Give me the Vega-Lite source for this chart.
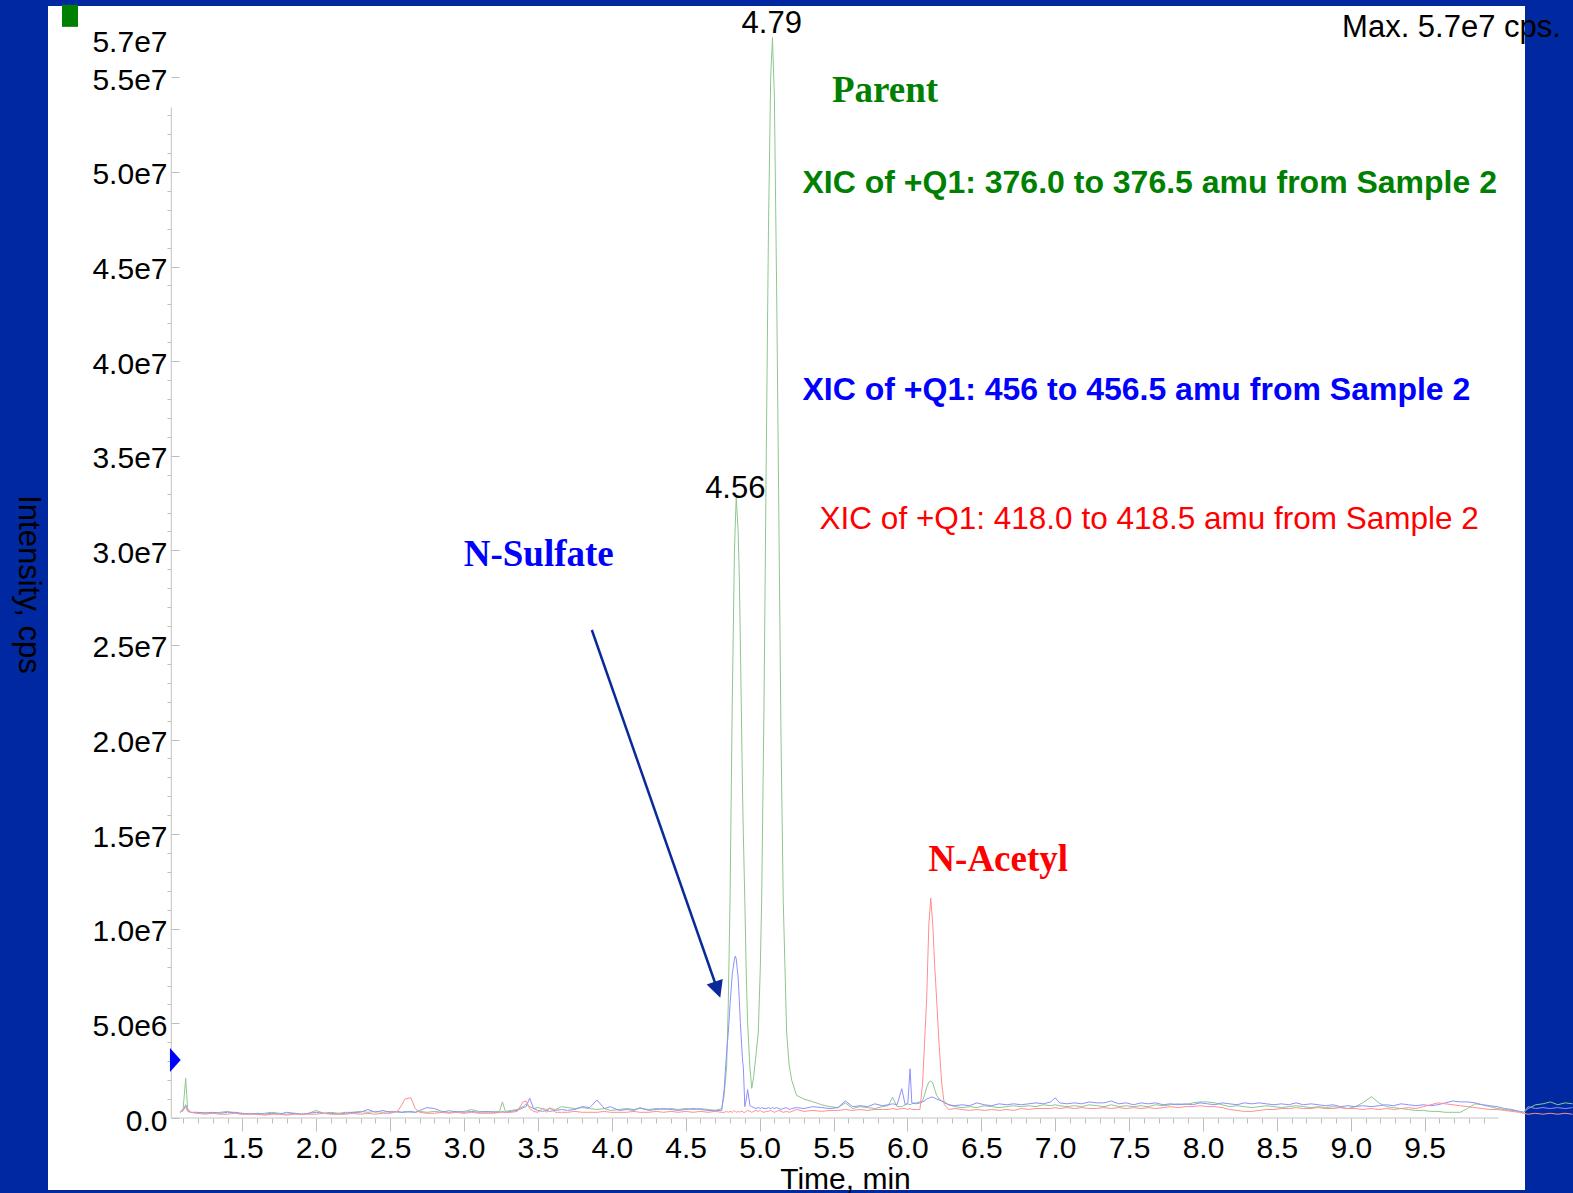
{
  "$schema": "https://vega.github.io/schema/vega-lite/v6.json",
  "width": 1477,
  "height": 1184,
  "autosize": {"type": "none"},
  "padding": {"left": 48, "top": 6, "right": 48, "bottom": 3},
  "background": "#0028A0",
  "config": {
    "view": {"fill": "white", "stroke": null},
    "font": "Liberation Sans"
  },
  "datasets": {
    "xic": [
      {"t":1.08,"g":0.3,"b":0.3,"r":0.3},{"t":1.10,"g":0.5,"b":0.4,"r":0.4},{"t":1.117,"g":2.1,"b":0.7,"r":0.6},{"t":1.13,"g":0.5,"b":0.4,"r":0.35},{"t":1.15,"g":0.3,"b":0.3,"r":0.3},
      {"t":1.20,"g":0.25,"b":0.3,"r":0.25},{"t":1.25,"g":0.3,"b":0.25,"r":0.2},{"t":1.30,"g":0.25,"b":0.3,"r":0.25},{"t":1.35,"g":0.3,"b":0.25,"r":0.2},{"t":1.40,"g":0.35,"b":0.3,"r":0.2},
      {"t":1.45,"g":0.25,"b":0.3,"r":0.25},{"t":1.50,"g":0.2,"b":0.25,"r":0.2},{"t":1.55,"g":0.25,"b":0.2,"r":0.2},{"t":1.60,"g":0.2,"b":0.25,"r":0.2},{"t":1.65,"g":0.25,"b":0.2,"r":0.15},
      {"t":1.70,"g":0.3,"b":0.25,"r":0.2},{"t":1.75,"g":0.25,"b":0.2,"r":0.2},{"t":1.80,"g":0.2,"b":0.3,"r":0.15},{"t":1.85,"g":0.25,"b":0.25,"r":0.2},{"t":1.90,"g":0.2,"b":0.2,"r":0.2},
      {"t":1.95,"g":0.25,"b":0.25,"r":0.2},{"t":2.00,"g":0.4,"b":0.3,"r":0.2},{"t":2.05,"g":0.25,"b":0.25,"r":0.25},{"t":2.10,"g":0.3,"b":0.25,"r":0.2},{"t":2.15,"g":0.25,"b":0.2,"r":0.2},
      {"t":2.20,"g":0.3,"b":0.25,"r":0.2},{"t":2.25,"g":0.3,"b":0.3,"r":0.25},{"t":2.30,"g":0.35,"b":0.3,"r":0.2},{"t":2.35,"g":0.3,"b":0.45,"r":0.25},{"t":2.40,"g":0.35,"b":0.3,"r":0.2},
      {"t":2.45,"g":0.3,"b":0.4,"r":0.25},{"t":2.50,"g":0.35,"b":0.3,"r":0.25},{"t":2.55,"g":0.3,"b":0.35,"r":0.35},{"t":2.58,"g":0.3,"b":0.3,"r":0.7},{"t":2.60,"g":0.35,"b":0.3,"r":1.0},
      {"t":2.64,"g":0.3,"b":0.35,"r":1.07},{"t":2.67,"g":0.3,"b":0.3,"r":0.5},{"t":2.70,"g":0.35,"b":0.4,"r":0.3},{"t":2.75,"g":0.3,"b":0.55,"r":0.25},{"t":2.80,"g":0.35,"b":0.5,"r":0.25},
      {"t":2.85,"g":0.3,"b":0.35,"r":0.3},{"t":2.90,"g":0.4,"b":0.3,"r":0.25},{"t":2.95,"g":0.3,"b":0.35,"r":0.3},{"t":3.00,"g":0.35,"b":0.3,"r":0.25},{"t":3.05,"g":0.45,"b":0.35,"r":0.3},
      {"t":3.10,"g":0.35,"b":0.3,"r":0.25},{"t":3.15,"g":0.3,"b":0.35,"r":0.25},{"t":3.20,"g":0.35,"b":0.3,"r":0.25},{"t":3.24,"g":0.35,"b":0.3,"r":0.3},{"t":3.26,"g":0.85,"b":0.35,"r":0.3},
      {"t":3.28,"g":0.35,"b":0.3,"r":0.3},{"t":3.32,"g":0.4,"b":0.35,"r":0.3},{"t":3.36,"g":0.45,"b":0.4,"r":0.35},{"t":3.40,"g":0.6,"b":0.55,"r":0.85},{"t":3.42,"g":0.75,"b":0.6,"r":0.9},
      {"t":3.445,"g":0.6,"b":1.05,"r":0.5},{"t":3.47,"g":0.5,"b":0.5,"r":0.35},{"t":3.50,"g":0.55,"b":0.4,"r":0.3},{"t":3.53,"g":0.5,"b":0.35,"r":0.5},{"t":3.56,"g":0.45,"b":0.4,"r":0.3},
      {"t":3.58,"g":0.5,"b":0.35,"r":0.55},{"t":3.62,"g":0.45,"b":0.4,"r":0.3},{"t":3.66,"g":0.6,"b":0.45,"r":0.3},{"t":3.70,"g":0.55,"b":0.4,"r":0.3},{"t":3.75,"g":0.5,"b":0.45,"r":0.35},
      {"t":3.80,"g":0.55,"b":0.6,"r":0.3},{"t":3.85,"g":0.5,"b":0.55,"r":0.3},{"t":3.90,"g":0.45,"b":0.95,"r":0.3},{"t":3.95,"g":0.5,"b":0.5,"r":0.35},{"t":3.99,"g":0.4,"b":0.6,"r":0.3},
      {"t":4.05,"g":0.45,"b":0.4,"r":0.3},{"t":4.10,"g":0.5,"b":0.45,"r":0.3},{"t":4.15,"g":0.45,"b":0.4,"r":0.35},{"t":4.19,"g":0.5,"b":0.55,"r":0.3},{"t":4.25,"g":0.45,"b":0.4,"r":0.3},
      {"t":4.30,"g":0.5,"b":0.45,"r":0.35},{"t":4.35,"g":0.45,"b":0.5,"r":0.3},{"t":4.40,"g":0.5,"b":0.45,"r":0.35},{"t":4.45,"g":0.45,"b":0.4,"r":0.3},{"t":4.50,"g":0.5,"b":0.45,"r":0.35},
      {"t":4.55,"g":0.45,"b":0.5,"r":0.3},{"t":4.60,"g":0.5,"b":0.45,"r":0.35},{"t":4.65,"g":0.45,"b":0.4,"r":0.3},{"t":4.70,"g":0.4,"b":0.4,"r":0.35},{"t":4.744,"g":0.5,"b":0.4,"r":0.3},
      {"t":4.76,"g":1.2,"b":1.5,"r":0.3},{"t":4.777,"g":2.7,"b":3.5,"r":0.35},{"t":4.788,"g":6,"b":4.5,"r":0.3},{"t":4.80,"g":11.5,"b":6.0,"r":0.35},{"t":4.815,"g":22,"b":7.6,"r":0.3},
      {"t":4.83,"g":30,"b":8.4,"r":0.4},{"t":4.836,"g":31.5,"b":8.56,"r":0.35},{"t":4.842,"g":32.8,"b":8.4,"r":0.3},{"t":4.855,"g":31,"b":7.4,"r":0.35},{"t":4.863,"g":28.5,"b":6.2,"r":0.3},
      {"t":4.87,"g":25,"b":5.0,"r":0.35},{"t":4.885,"g":17,"b":3.0,"r":0.35},{"t":4.89,"g":15,"b":2.7,"r":0.3},{"t":4.90,"g":11.5,"b":0.6,"r":0.3},{"t":4.91,"g":7.5,"b":1.0,"r":0.35},
      {"t":4.919,"g":5.0,"b":1.5,"r":0.4},{"t":4.935,"g":2.6,"b":0.65,"r":0.35},{"t":4.947,"g":1.57,"b":0.6,"r":0.3},{"t":4.96,"g":2.2,"b":0.55,"r":0.35},{"t":4.975,"g":3.3,"b":0.5,"r":0.4},
      {"t":4.991,"g":4.5,"b":0.55,"r":0.35},{"t":5.005,"g":8,"b":0.5,"r":0.4},{"t":5.014,"g":11.5,"b":0.55,"r":0.35},{"t":5.03,"g":22,"b":0.5,"r":0.3},{"t":5.045,"g":35,"b":0.5,"r":0.35},
      {"t":5.06,"g":47,"b":0.55,"r":0.35},{"t":5.075,"g":55,"b":0.5,"r":0.4},{"t":5.087,"g":57.1,"b":0.55,"r":0.35},{"t":5.10,"g":54,"b":0.5,"r":0.3},{"t":5.115,"g":44,"b":0.55,"r":0.35},
      {"t":5.13,"g":32,"b":0.5,"r":0.4},{"t":5.145,"g":20,"b":0.45,"r":0.35},{"t":5.16,"g":11.5,"b":0.5,"r":0.3},{"t":5.183,"g":4.5,"b":0.55,"r":0.35},{"t":5.20,"g":2.8,"b":0.45,"r":0.3},
      {"t":5.217,"g":2.0,"b":0.5,"r":0.35},{"t":5.25,"g":1.2,"b":0.55,"r":0.45},{"t":5.30,"g":1.0,"b":0.5,"r":0.35},{"t":5.36,"g":0.86,"b":0.6,"r":0.4},{"t":5.42,"g":0.7,"b":0.55,"r":0.35},
      {"t":5.476,"g":0.6,"b":0.5,"r":0.4},{"t":5.53,"g":0.55,"b":0.55,"r":0.4},{"t":5.58,"g":0.8,"b":0.9,"r":0.45},{"t":5.63,"g":0.5,"b":0.6,"r":0.4},{"t":5.68,"g":0.6,"b":0.65,"r":0.45},
      {"t":5.73,"g":0.55,"b":0.6,"r":0.4},{"t":5.78,"g":0.5,"b":0.75,"r":0.45},{"t":5.83,"g":0.6,"b":0.65,"r":0.45},{"t":5.87,"g":0.65,"b":0.7,"r":0.45},{"t":5.90,"g":1.1,"b":0.75,"r":0.5},
      {"t":5.93,"g":0.6,"b":0.7,"r":0.45},{"t":5.962,"g":0.6,"b":1.55,"r":0.5},{"t":5.985,"g":0.7,"b":0.7,"r":0.5},{"t":6.003,"g":0.75,"b":0.8,"r":0.45},{"t":6.018,"g":0.7,"b":2.6,"r":0.5},
      {"t":6.03,"g":0.75,"b":0.8,"r":0.45},{"t":6.06,"g":0.8,"b":0.75,"r":0.45},{"t":6.085,"g":0.85,"b":0.8,"r":0.45},{"t":6.103,"g":0.9,"b":0.85,"r":1.85},{"t":6.115,"g":1.2,"b":0.9,"r":3.8},
      {"t":6.13,"g":1.6,"b":1.0,"r":6.24},{"t":6.145,"g":1.9,"b":1.05,"r":10.2},{"t":6.158,"g":1.96,"b":1.1,"r":11.63},{"t":6.172,"g":1.85,"b":1.1,"r":10.2},{"t":6.185,"g":1.5,"b":1.05,"r":8.0},
      {"t":6.198,"g":1.2,"b":1.0,"r":6.24},{"t":6.215,"g":1.0,"b":0.95,"r":3.8},{"t":6.232,"g":0.9,"b":0.9,"r":1.85},{"t":6.25,"g":0.85,"b":0.8,"r":0.7},{"t":6.28,"g":0.7,"b":0.7,"r":0.45},
      {"t":6.32,"g":0.6,"b":0.65,"r":0.5},{"t":6.37,"g":0.55,"b":0.7,"r":0.45},{"t":6.42,"g":0.6,"b":0.65,"r":0.4},{"t":6.47,"g":0.55,"b":0.8,"r":0.45},{"t":6.52,"g":0.65,"b":0.7,"r":0.4},
      {"t":6.57,"g":0.6,"b":0.65,"r":0.45},{"t":6.62,"g":0.55,"b":0.75,"r":0.4},{"t":6.67,"g":0.6,"b":0.7,"r":0.45},{"t":6.72,"g":0.65,"b":0.75,"r":0.4},{"t":6.77,"g":0.6,"b":0.7,"r":0.5},
      {"t":6.82,"g":0.65,"b":0.75,"r":0.45},{"t":6.87,"g":0.6,"b":0.8,"r":0.5},{"t":6.92,"g":0.7,"b":0.75,"r":0.5},{"t":6.97,"g":0.65,"b":0.85,"r":0.5},{"t":7.00,"g":0.7,"b":1.07,"r":0.55},
      {"t":7.03,"g":0.65,"b":0.8,"r":0.5},{"t":7.08,"g":0.6,"b":0.75,"r":0.55},{"t":7.13,"g":0.65,"b":0.8,"r":0.5},{"t":7.18,"g":0.6,"b":0.75,"r":0.55},{"t":7.23,"g":0.7,"b":0.85,"r":0.5},
      {"t":7.28,"g":0.65,"b":0.8,"r":0.5},{"t":7.33,"g":0.6,"b":0.8,"r":0.55},{"t":7.38,"g":0.7,"b":0.9,"r":0.5},{"t":7.43,"g":0.6,"b":0.75,"r":0.55},{"t":7.48,"g":0.65,"b":0.8,"r":0.5},
      {"t":7.53,"g":0.6,"b":0.7,"r":0.55},{"t":7.58,"g":0.65,"b":0.8,"r":0.5},{"t":7.63,"g":0.6,"b":0.75,"r":0.55},{"t":7.68,"g":0.7,"b":0.8,"r":0.5},{"t":7.73,"g":0.65,"b":0.7,"r":0.55},
      {"t":7.78,"g":0.7,"b":0.75,"r":0.6},{"t":7.83,"g":0.75,"b":0.7,"r":0.55},{"t":7.88,"g":0.7,"b":0.75,"r":0.6},{"t":7.93,"g":0.8,"b":0.7,"r":0.6},{"t":7.98,"g":0.85,"b":0.8,"r":0.65},
      {"t":8.03,"g":0.85,"b":0.75,"r":0.6},{"t":8.08,"g":0.8,"b":0.7,"r":0.6},{"t":8.13,"g":0.7,"b":0.8,"r":0.55},{"t":8.18,"g":0.6,"b":0.75,"r":0.45},{"t":8.23,"g":0.65,"b":0.7,"r":0.4},
      {"t":8.28,"g":0.6,"b":0.8,"r":0.35},{"t":8.33,"g":0.55,"b":0.75,"r":0.35},{"t":8.38,"g":0.6,"b":0.8,"r":0.4},{"t":8.43,"g":0.65,"b":0.75,"r":0.45},{"t":8.48,"g":0.6,"b":0.7,"r":0.45},
      {"t":8.53,"g":0.55,"b":0.75,"r":0.5},{"t":8.58,"g":0.6,"b":0.7,"r":0.5},{"t":8.63,"g":0.65,"b":0.8,"r":0.55},{"t":8.68,"g":0.6,"b":0.7,"r":0.5},{"t":8.73,"g":0.55,"b":0.75,"r":0.5},
      {"t":8.78,"g":0.6,"b":0.7,"r":0.55},{"t":8.83,"g":0.55,"b":0.65,"r":0.5},{"t":8.88,"g":0.6,"b":0.7,"r":0.5},{"t":8.93,"g":0.55,"b":0.6,"r":0.55},{"t":8.98,"g":0.5,"b":0.65,"r":0.5},
      {"t":9.03,"g":0.6,"b":0.6,"r":0.5},{"t":9.08,"g":0.8,"b":0.65,"r":0.45},{"t":9.14,"g":1.13,"b":0.6,"r":0.5},{"t":9.19,"g":0.8,"b":0.65,"r":0.45},{"t":9.24,"g":0.6,"b":0.7,"r":0.5},
      {"t":9.29,"g":0.55,"b":0.65,"r":0.45},{"t":9.34,"g":0.5,"b":0.75,"r":0.5},{"t":9.39,"g":0.45,"b":0.7,"r":0.55},{"t":9.44,"g":0.4,"b":0.65,"r":0.5},{"t":9.49,"g":0.4,"b":0.7,"r":0.6},
      {"t":9.54,"g":0.35,"b":0.65,"r":0.7},{"t":9.59,"g":0.35,"b":0.7,"r":0.8},{"t":9.64,"g":0.3,"b":0.8,"r":0.75},{"t":9.69,"g":0.3,"b":0.9,"r":0.7},{"t":9.74,"g":0.3,"b":0.85,"r":0.65},
      {"t":9.79,"g":0.5,"b":0.85,"r":0.6},{"t":9.84,"g":0.75,"b":0.8,"r":0.55},{"t":9.89,"g":0.7,"b":0.7,"r":0.5},{"t":9.94,"g":0.6,"b":0.65,"r":0.45},{"t":9.99,"g":0.5,"b":0.6,"r":0.45},
      {"t":10.04,"g":0.45,"b":0.5,"r":0.4},{"t":10.09,"g":0.4,"b":0.45,"r":0.35},{"t":10.14,"g":0.35,"b":0.35,"r":0.3},{"t":10.17,"g":0.3,"b":0.3,"r":0.25},{"t":10.20,"g":0.5,"b":0.6,"r":0.2},
      {"t":10.25,"g":0.7,"b":0.5,"r":0.25},{"t":10.30,"g":0.75,"b":0.55,"r":0.2},{"t":10.35,"g":0.85,"b":0.5,"r":0.25},{"t":10.40,"g":0.7,"b":0.55,"r":0.2},{"t":10.45,"g":0.8,"b":0.5,"r":0.25},
      {"t":10.50,"g":0.75,"b":0.55,"r":0.2}
    ],
    "axislines": [
      {"t": 1.0196, "t2": 10.0, "v": 0, "v2": 0},
      {"t": 1.0196, "t2": 1.0196, "v": 0, "v2": 53.4}
    ]
  },
  "encoding": {
    "x": {
      "field": "t", "type": "quantitative",
      "scale": {"domain": [0.18539, 10.1786], "nice": false, "zero": false},
      "axis": {
        "orient": "bottom", "offset": -72, "domain": false, "grid": false,
        "values": [1.1,1.2,1.3,1.4,1.5,1.6,1.7,1.8,1.9,2.0,2.1,2.2,2.3,2.4,2.5,2.6,2.7,2.8,2.9,3.0,3.1,3.2,3.3,3.4,3.5,3.6,3.7,3.8,3.9,4.0,4.1,4.2,4.3,4.4,4.5,4.6,4.7,4.8,4.9,5.0,5.1,5.2,5.3,5.4,5.5,5.6,5.7,5.8,5.9,6.0,6.1,6.2,6.3,6.4,6.5,6.6,6.7,6.8,6.9,7.0,7.1,7.2,7.3,7.4,7.5,7.6,7.7,7.8,7.9,8.0,8.1,8.2,8.3,8.4,8.5,8.6,8.7,8.8,8.9,9.0,9.1,9.2,9.3,9.4,9.5,9.6,9.7,9.8,9.9],
        "labelExpr": "(datum.value*2) % 1 == 0 ? format(datum.value, '.1f') : ''",
        "tickSize": {"condition": {"test": "(datum.value*2) % 1 == 0", "value": 13}, "value": 5},
        "tickColor": "#bdbdbd", "tickWidth": 1,
        "labelFontSize": 30, "labelColor": "black", "labelPadding": 2,
        "labelOverlap": false, "labelBound": false, "labelFlush": false,
        "title": "Time, min", "titleFontSize": 30, "titleFontWeight": "normal", "titleColor": "black",
        "titleX": 797, "titleY": 70, "titleBaseline": "alphabetic", "titleAlign": "center", "titleAnchor": null
      }
    },
    "y": {
      "field": "v", "type": "quantitative",
      "scale": {"domain": [-3.805, 58.77], "nice": false, "zero": false},
      "axis": {
        "orient": "left", "offset": -123, "domain": false, "grid": false,
        "values": [0,1,2,3,4,5,6,7,8,9,10,11,12,13,14,15,16,17,18,19,20,21,22,23,24,25,26,27,28,29,30,31,32,33,34,35,36,37,38,39,40,41,42,43,44,45,46,47,48,49,50,51,52,53,55,57],
        "labelExpr": "datum.value == 0 ? '0.0' : (datum.value % 5 == 0 || datum.value == 57) ? (datum.value < 10 ? format(datum.value, '.1f') + 'e6' : format(datum.value / 10, '.1f') + 'e7') : ''",
        "tickSize": {"condition": {"test": "datum.value % 5 == 0 || datum.value == 57", "value": -8}, "value": 4},
        "tickOpacity": {"condition": {"test": "datum.value == 57", "value": 0}, "value": 1},
        "tickColor": "#bdbdbd", "tickWidth": 1,
        "labelFontSize": 30, "labelColor": "black", "labelPadding": 12, "labelOffset": 3,
        "labelOverlap": false, "labelBound": false, "labelFlush": false,
        "title": "Intensity, cps", "titleFontSize": 31, "titleFontWeight": "normal", "titleColor": "black",
        "titleAngle": 90, "titleX": -144, "titleY": 578, "titleAlign": "center", "titleBaseline": "middle", "titleAnchor": null
      }
    }
  },
  "layer": [
    {
      "data": {"name": "axislines"},
      "mark": {"type": "rule", "color": "#c4c4c4", "strokeWidth": 1, "clip": false},
      "encoding": {"x2": {"field": "t2"}, "y2": {"field": "v2"}}
    },
    {
      "data": {"name": "xic"},
      "transform": [{"fold": ["g", "b", "r"], "as": ["s", "v"]}],
      "mark": {"type": "line", "strokeWidth": 1, "clip": false},
      "encoding": {
        "color": {"field": "s", "type": "nominal", "legend": null,
          "scale": {"domain": ["g", "b", "r"], "range": ["#8cc88c", "#8f8fff", "#ff8f8f"]}},
        "order": {"field": "t", "type": "quantitative"}
      }
    },
    {
      "data": {"values": [{"t": 3.865, "t2": 4.715, "v": 25.79, "v2": 6.78}]},
      "mark": {"type": "rule", "color": "#0a2a9a", "strokeWidth": 2.5, "clip": false},
      "encoding": {"x2": {"field": "t2"}, "y2": {"field": "v2"}}
    },
    {
      "data": {"values": [{"t": 4.715, "v": 6.78}]},
      "mark": {"type": "point", "shape": "M-1,-1L1,-1L0,1Z", "size": 289, "angle": 340.7, "filled": true, "opacity": 1, "color": "#0a2a9a", "clip": false}
    },
    {
      "data": {"values": [{"t": 0.3342, "v": 58.25}]},
      "mark": {"type": "point", "shape": "M-0.727,-1H0.727V1H-0.727Z", "size": 484, "filled": true, "opacity": 1, "color": "#008000", "clip": false}
    },
    {
      "data": {"values": [{"t": 1.047, "v": 3.07}]},
      "mark": {"type": "point", "shape": "M-0.45,-1L0.45,0L-0.45,1Z", "size": 576, "filled": true, "opacity": 1, "color": "#0000ff", "clip": false}
    },
    {
      "data": {"values": [{"t": 5.8485, "v": 53.68, "label": "Parent"}]},
      "mark": {"type": "text", "font": "Liberation Serif", "fontWeight": "bold", "fontSize": 37, "color": "#008000", "align": "center", "baseline": "alphabetic", "clip": false},
      "encoding": {"text": {"field": "label"}}
    },
    {
      "data": {"values": [{"t": 3.5054, "v": 29.19, "label": "N-Sulfate"}]},
      "mark": {"type": "text", "font": "Liberation Serif", "fontWeight": "bold", "fontSize": 37, "color": "#0000ff", "align": "center", "baseline": "alphabetic", "clip": false},
      "encoding": {"text": {"field": "label"}}
    },
    {
      "data": {"values": [{"t": 6.6143, "v": 13.05, "label": "N-Acetyl"}]},
      "mark": {"type": "text", "font": "Liberation Serif", "fontWeight": "bold", "fontSize": 37, "color": "#ff0000", "align": "center", "baseline": "alphabetic", "clip": false},
      "encoding": {"text": {"field": "label"}}
    },
    {
      "data": {"values": [{"t": 5.2903, "v": 48.91, "label": "XIC of +Q1: 376.0 to 376.5 amu from Sample 2"}]},
      "mark": {"type": "text", "fontWeight": "bold", "fontSize": 32, "color": "#008000", "align": "left", "baseline": "alphabetic", "clip": false},
      "encoding": {"text": {"field": "label"}}
    },
    {
      "data": {"values": [{"t": 5.2903, "v": 37.95, "label": "XIC of +Q1: 456 to 456.5 amu from Sample 2"}]},
      "mark": {"type": "text", "fontWeight": "bold", "fontSize": 32, "color": "#0000ff", "align": "left", "baseline": "alphabetic", "clip": false},
      "encoding": {"text": {"field": "label"}}
    },
    {
      "data": {"values": [{"t": 5.406, "v": 31.15, "label": "XIC of +Q1: 418.0 to 418.5 amu from Sample 2"}]},
      "mark": {"type": "text", "fontWeight": "normal", "fontSize": 31.5, "color": "#ff0000", "align": "left", "baseline": "alphabetic", "clip": false},
      "encoding": {"text": {"field": "label"}}
    },
    {
      "data": {"values": [
        {"t": 5.0819, "v": 57.35, "label": "4.79"},
        {"t": 4.8356, "v": 32.79, "label": "4.56"},
        {"t": 9.6813, "v": 57.14, "label": "Max. 5.7e7 cps."}
      ]},
      "mark": {"type": "text", "fontSize": 31, "color": "black", "align": "center", "baseline": "alphabetic", "clip": false},
      "encoding": {"text": {"field": "label"}}
    }
  ]
}
